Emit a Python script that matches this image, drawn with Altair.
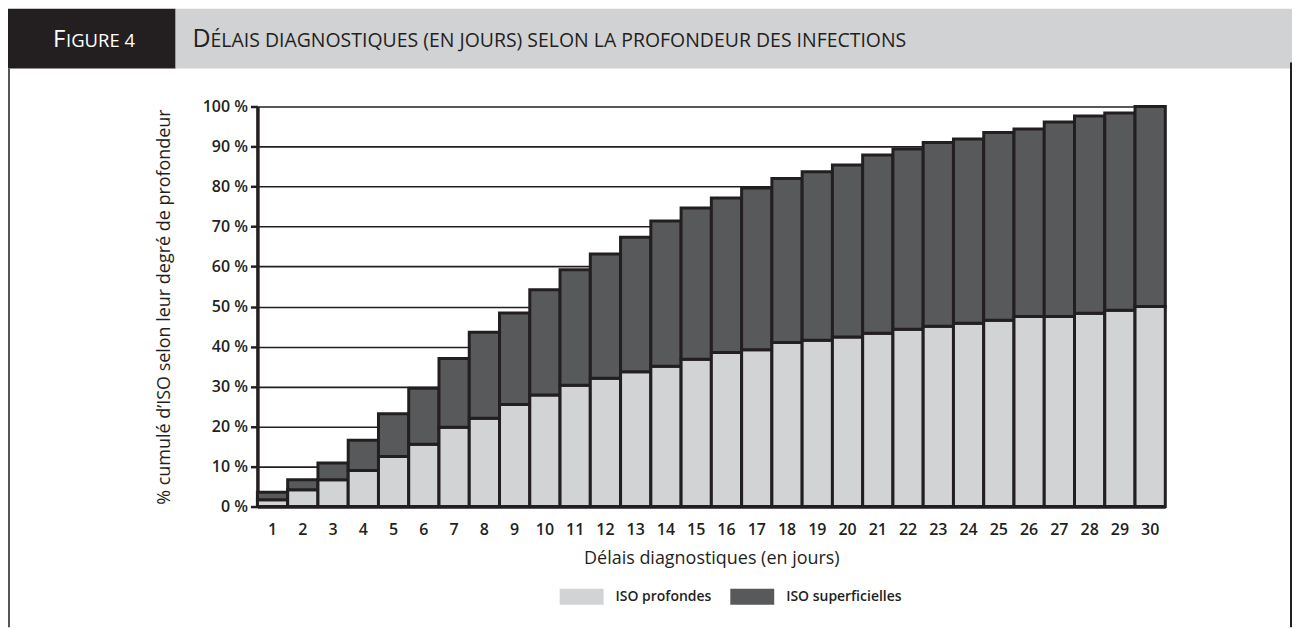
import altair as alt
import pandas as pd

# ---- data ----
jours = list(range(1, 31))
profondes = [1.7, 4.2, 6.7, 9.0, 12.5, 15.6, 19.8, 22.1, 25.5, 27.9,
             30.3, 32.1, 33.7, 35.1, 36.8, 38.5, 39.2, 41.0, 41.6, 42.4,
             43.3, 44.3, 45.1, 45.8, 46.6, 47.5, 47.5, 48.3, 49.1, 50.0]
totaux = [3.6, 6.7, 10.9, 16.6, 23.2, 29.6, 37.0, 43.6, 48.4, 54.2,
          59.2, 63.1, 67.3, 71.4, 74.6, 77.1, 79.6, 82.0, 83.7, 85.4,
          87.9, 89.4, 91.0, 91.9, 93.5, 94.4, 96.1, 97.6, 98.4, 100.0]
series = ["ISO profondes", "ISO superficielles"]
y_ticks = [0, 10, 20, 30, 40, 50, 60, 70, 80, 90, 100]

fig_label_big, fig_label_small = "F", "IGURE 4"
title_big, title_small = "D", "ÉLAIS DIAGNOSTIQUES (EN JOURS) SELON LA PROFONDEUR DES INFECTIONS"

DARK = "#231f20"
LIGHT_BAR = "#d1d3d4"
DARK_BAR = "#58595b"
HEAD_GRAY = "#d1d2d4"
FONT = "Open Sans"

rows = []
for j, p, t in zip(jours, profondes, totaux):
    rows.append({"jour": j, "serie": series[0], "val": p, "ord": 0})
    rows.append({"jour": j, "serie": series[1], "val": round(t - p, 2), "ord": 1})
df = pd.DataFrame(rows)

W, H = 910, 401

bars = alt.Chart(df).mark_bar(stroke=DARK, strokeWidth=3).encode(
    x=alt.X("jour:O", title="Délais diagnostiques (en jours)",
            scale=alt.Scale(paddingInner=0, paddingOuter=0),
            axis=alt.Axis(labelAngle=0, ticks=False, domainWidth=3.5, domainColor=DARK,
                          labelFont=FONT, labelFontSize=16, labelFontWeight=600,
                          labelColor=DARK, labelPadding=15,
                          titleFont=FONT, titleFontSize=18, titleFontWeight="normal",
                          titleColor=DARK, titlePadding=12)),
    y=alt.Y("sum(val):Q", stack="zero",
            title="% cumulé d’ISO selon leur degré de profondeur",
            scale=alt.Scale(domain=[0, 100], nice=False),
            axis=alt.Axis(values=y_ticks, labelExpr="datum.value + ' %'",
                          labelFont=FONT, labelFontSize=16, labelFontWeight=600,
                          labelColor=DARK, labelPadding=3,
                          tickSize=7, tickWidth=2.5, tickColor=DARK,
                          domainWidth=3.5, domainColor=DARK,
                          grid=True, gridColor=DARK, gridWidth=1.6,
                          titleFont=FONT, titleFontSize=18, titleFontWeight="normal",
                          titleColor=DARK, titlePadding=29)),
    color=alt.Color("serie:N",
                    scale=alt.Scale(domain=series, range=[LIGHT_BAR, DARK_BAR]),
                    legend=alt.Legend(title=None, orient="none", legendX=303, legendY=469,
                                      direction="horizontal",
                                      symbolType="M-1,-0.364H1V0.364H-1Z",
                                      symbolSize=1936, symbolStrokeWidth=0,
                                      symbolOpacity=1,
                                      labelFont=FONT, labelFontSize=14, labelFontWeight=600,
                                      labelColor=DARK, labelOffset=12, columnPadding=18,
                                      padding=0)),
    order=alt.Order("ord:Q"),
)

one = pd.DataFrame({"k": [0]})

head_dark = alt.Chart(one).mark_rect(color=DARK).encode(
    x=alt.value(-250), x2=alt.value(-82), y=alt.value(-98), y2=alt.value(-38))
head_gray = alt.Chart(one).mark_rect(color=HEAD_GRAY).encode(
    x=alt.value(-82), x2=alt.value(1037), y=alt.value(-98), y2=alt.value(-38))
line_left = alt.Chart(one).mark_rule(color="#555555", strokeWidth=2).encode(
    x=alt.value(-249), y=alt.value(-38), y2=alt.value(522))
line_right = alt.Chart(one).mark_rule(color=DARK, strokeWidth=2).encode(
    x=alt.value(1036), y=alt.value(-44), y2=alt.value(522))

def txt(s, x, size, color):
    return alt.Chart(pd.DataFrame({"t": [s]})).mark_text(
        font=FONT, fontSize=size, color=color, align="left", baseline="alphabetic"
    ).encode(x=alt.value(x), y=alt.value(-60), text="t:N")

t1 = txt(fig_label_big, -205, 24, "white")
t2 = txt(fig_label_small, -191.8, 18.5, "white")
t3 = txt(title_big, -65, 25, DARK)
t4 = txt(title_small, -47, 19.5, DARK)

chart = alt.layer(head_dark, head_gray, line_left, line_right, t1, t2, t3, t4, bars).properties(
    width=W, height=H, padding=0
).configure_view(strokeWidth=0)

chart.save("out.html", embed_options={"renderer": "svg", "actions": False})
